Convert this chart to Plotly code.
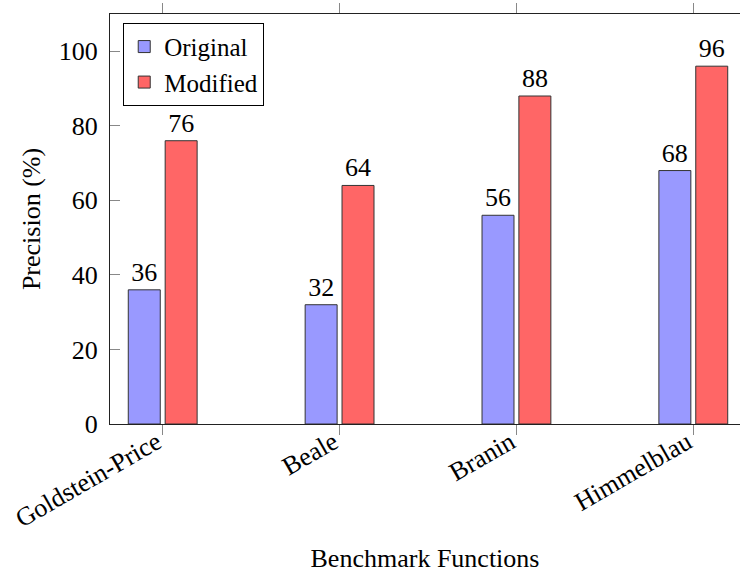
import plotly.graph_objects as go

categories = ["Goldstein-Price", "Beale", "Branin", "Himmelblau"]
original = [36, 32, 56, 68]
modified = [76, 64, 88, 96]
y_ticks = [0, 20, 40, 60, 80, 100]

FONT = "Liberation Serif"
FS = 26
x_pos = list(range(len(categories)))

fig = go.Figure()
fig.add_trace(go.Bar(
    x=x_pos, y=original, name="Original",
    marker=dict(color="rgb(153,153,255)", line=dict(color="#333333", width=1)),
    text=original, textposition="outside", cliponaxis=False,
    textfont=dict(family=FONT, size=FS, color="black"),
))
fig.add_trace(go.Bar(
    x=x_pos, y=modified, name="Modified",
    marker=dict(color="rgb(255,102,102)", line=dict(color="#333333", width=1)),
    text=modified, textposition="outside", cliponaxis=False,
    textfont=dict(family=FONT, size=FS, color="black"),
))

fig.update_layout(
    width=740, height=575,
    margin=dict(l=110, r=0, t=14, b=151, autoexpand=False),
    plot_bgcolor="white", paper_bgcolor="white",
    font=dict(family=FONT, size=FS, color="black"),
    barmode="group", bargap=0.583, bargroupgap=0.133,
    showlegend=True,
    legend=dict(
        x=0.021, y=0.9785, xanchor="left", yanchor="top",
        bordercolor="black", borderwidth=1, bgcolor="white",
        font=dict(family=FONT, size=25), tracegroupgap=0,
        itemwidth=30,
    ),
    xaxis=dict(
        range=[-0.298, 3.264], automargin=False,
        tickmode="array", tickvals=x_pos, ticktext=categories,
        tickfont=dict(family=FONT, size=FS),
        tickangle=-30, ticks="outside", ticklen=10, tickcolor="#888888",
        ticklabelstandoff=-18, ticklabelshift=-6,
        showline=True, linecolor="#222222", linewidth=1, mirror="ticks",
        showgrid=False, zeroline=False,
        title=dict(text="Benchmark Functions", standoff=16,
                   font=dict(family=FONT, size=FS)),
    ),
    yaxis=dict(
        range=[0, 110], automargin=False,
        tickmode="array", tickvals=y_ticks,
        tickfont=dict(family=FONT, size=FS),
        ticks="inside", ticklen=10, tickcolor="#888888",
        showline=True, linecolor="#222222", linewidth=1, mirror=False,
        showgrid=False, zeroline=False, ticklabelstandoff=6,
        title=dict(text="Precision (%)", standoff=10,
                   font=dict(family=FONT, size=FS)),
    ),
    yaxis2=dict(
        overlaying="y", side="right", range=[0, 110], automargin=False,
        tickmode="array", tickvals=y_ticks,
        ticks="inside", ticklen=5, tickcolor="#888888",
        showticklabels=False, showline=False, showgrid=False, zeroline=False,
    ),
)

fig.write_html("out.html", config={"displayModeBar": False},
               post_script="document.body.style.margin='0px';")
